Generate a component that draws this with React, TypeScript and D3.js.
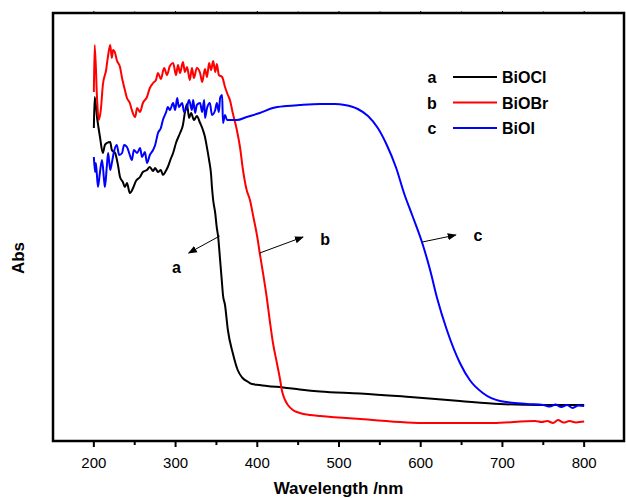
import React from 'react';
import * as d3 from 'd3';

type Pt = [number, number];

// BiOCl (curve a)
const bioclSeries: Pt[] = [
  [200, 1.565], [201, 1.72], [204, 1.615], [207.5, 1.52], [211, 1.44], [213.5, 1.48], [216, 1.49],
  [220, 1.495], [222, 1.455], [226, 1.44], [229.5, 1.38], [232, 1.32], [235.5, 1.295], [238, 1.27],
  [240.5, 1.29], [244, 1.24], [248, 1.265], [251.5, 1.3], [256.5, 1.32], [260, 1.345], [265, 1.355],
  [268.5, 1.37], [272.5, 1.35], [275, 1.365], [278.5, 1.345], [282, 1.355], [284.5, 1.33], [288, 1.35],
  [290.5, 1.37], [294.5, 1.415], [297, 1.44], [300.5, 1.49], [305.5, 1.54], [309, 1.58], [311.5, 1.645],
  [314, 1.685], [316.5, 1.615], [319, 1.64], [322.5, 1.605], [326, 1.625], [330, 1.59], [333.5, 1.555],
  [336, 1.52], [338.5, 1.465], [341, 1.405], [343.5, 1.33], [344.5, 1.27], [346, 1.205], [348.5, 1.14],
  [350.5, 1.065], [352, 1.025], [354.5, 0.905], [357, 0.78], [358, 0.73], [360.5, 0.68], [364, 0.555],
  [370, 0.44], [376, 0.355], [382, 0.315], [389, 0.295], [393.5, 0.285], [403, 0.28], [412, 0.275],
  [431.5, 0.268], [452, 0.258], [477, 0.248], [526, 0.238], [587, 0.22], [648, 0.2], [697, 0.185],
  [746, 0.18], [800, 0.18],
];

// BiOBr (curve b)
const biobrSeries: Pt[] = [
  [200, 1.745], [201, 1.98], [204, 1.705], [206, 1.605], [208.5, 1.655], [211, 1.78], [215, 1.855],
  [217, 1.915], [220, 1.98], [222, 1.915], [223.5, 1.955], [226, 1.94], [228, 1.905], [232, 1.87],
  [234.5, 1.815], [238, 1.755], [240.5, 1.715], [244, 1.69], [246.5, 1.655], [250.5, 1.62], [253, 1.665],
  [256.5, 1.645], [260, 1.69], [265, 1.72], [268.5, 1.765], [272.5, 1.79], [276, 1.805], [278.5, 1.84],
  [282, 1.81], [286, 1.865], [289.5, 1.83], [293, 1.875], [297, 1.89], [300.5, 1.83], [303, 1.88],
  [305.5, 1.84], [309, 1.895], [311.5, 1.845], [314, 1.87], [317.5, 1.805], [320, 1.865], [322.5, 1.815],
  [326, 1.865], [330, 1.84], [332.5, 1.795], [336, 1.86], [338.5, 1.82], [341, 1.89], [343.5, 1.855],
  [346, 1.9], [348.5, 1.845], [350.5, 1.885], [353, 1.83], [357, 1.82], [360.5, 1.77], [364, 1.73],
  [366.5, 1.705], [370, 1.64], [375, 1.555], [379, 1.465], [382.5, 1.355], [387, 1.255], [391, 1.205],
  [395, 1.125], [400, 1.02], [403, 0.94], [407, 0.84], [412, 0.705], [415.5, 0.595], [419, 0.495],
  [424, 0.39], [428, 0.305], [430, 0.255], [434, 0.205], [437.5, 0.18], [443.5, 0.155], [452, 0.14],
  [464.5, 0.13], [477, 0.125], [526, 0.11], [608, 0.09], [688, 0.09], [740, 0.1], [748, 0.095],
  [755, 0.1], [762, 0.09], [768, 0.105], [775, 0.092], [782, 0.1], [790, 0.093], [800, 0.097],
];

// BiOI (curve c)
const bioiSeries: Pt[] = [
  [200, 1.42], [201.5, 1.345], [202.5, 1.39], [205, 1.27], [207.5, 1.345], [210, 1.405], [212.5, 1.305],
  [213.5, 1.27], [216, 1.38], [217.5, 1.44], [220, 1.355], [222, 1.39], [224.5, 1.445], [228, 1.48],
  [231, 1.43], [234.5, 1.44], [237, 1.48], [240.5, 1.47], [244, 1.43], [246.5, 1.405], [249, 1.455],
  [253, 1.44], [256.5, 1.465], [259, 1.42], [262.5, 1.445], [265, 1.39], [268.5, 1.43], [272.5, 1.455],
  [275, 1.48], [278.5, 1.54], [282, 1.565], [284.5, 1.605], [288.5, 1.645], [290.5, 1.67], [293, 1.655],
  [297, 1.69], [299.5, 1.655], [302, 1.715], [304, 1.67], [308, 1.69], [310.5, 1.645], [314, 1.67],
  [316.5, 1.705], [320, 1.655], [321.5, 1.705], [324, 1.64], [326, 1.68], [330, 1.69], [332.5, 1.645],
  [335, 1.705], [336, 1.615], [338.5, 1.665], [342, 1.69], [344.5, 1.63], [348.5, 1.655], [350.5, 1.69],
  [353, 1.645], [354.5, 1.715], [357, 1.73], [358, 1.59], [360.5, 1.63], [363, 1.605], [369, 1.605],
  [375, 1.605], [387, 1.62], [403, 1.64], [419, 1.665], [436, 1.675], [452, 1.68], [477, 1.685],
  [495, 1.685], [507, 1.68], [523, 1.66], [535.5, 1.625], [547.5, 1.565], [558.5, 1.48], [570, 1.365],
  [579.5, 1.24], [589.5, 1.13], [601.5, 0.995], [611.5, 0.855], [620, 0.715], [632, 0.555], [648, 0.39],
  [660, 0.305], [676, 0.24], [697, 0.2], [730, 0.185], [750, 0.18], [758, 0.172], [765, 0.182],
  [772, 0.17], [779, 0.18], [786, 0.165], [793, 0.178], [800, 0.175],
];

const seriesNames = ['BiOCl', 'BiOBr', 'BiOI'];
const seriesKeys = ['a', 'b', 'c'];
const seriesColors = ['#000000', '#ff0000', '#0000ff'];
const seriesData = [bioclSeries, biobrSeries, bioiSeries];

const majorTicks = [200, 300, 400, 500, 600, 700, 800];
const minorTicks = [250, 350, 450, 550, 650, 750];

// annotation arrows: tail on the curve, head pointing at the label
const arrowSpecs = [
  { key: 'a', from: [354, 1.025] as Pt, to: [316, 0.94] as Pt, label: [301, 0.84] as Pt },
  { key: 'b', from: [403, 0.94] as Pt, to: [456, 1.02] as Pt, label: [483, 0.98] as Pt },
  { key: 'c', from: [602, 0.995] as Pt, to: [643, 1.03] as Pt, label: [670, 1.0] as Pt },
];

const W = 626;
const H = 498;
const left = 53;
const right = 624;
const top = 13;
const bottom = 441;

export default function App() {
  const x = d3.scaleLinear().domain([150, 850]).range([left, right + 1]);
  const y = d3.scaleLinear().domain([0, 2.14]).range([bottom, top]);
  const line = d3.line<Pt>().x(d => x(d[0])).y(d => y(d[1])).curve(d3.curveMonotoneX);
  const font = 'Arial, "Liberation Sans", Helvetica, sans-serif';

  return (
    <svg width={W} height={H} style={{ position: 'absolute', left: 0, top: 0, background: '#fff' }}
      fontFamily={font}>
      <defs>
        <marker id="arr" viewBox="0 0 10 10" refX="9" refY="5" markerWidth="9" markerHeight="9"
          orient="auto" markerUnits="userSpaceOnUse">
          <path d="M0,1 L10,5 L0,9 Z" fill="#000" />
        </marker>
      </defs>

      {/* curves */}
      {seriesData.map((s, i) => (
        <path key={seriesNames[i]} d={line(s) ?? ''} fill="none" stroke={seriesColors[i]}
          strokeWidth={2} strokeLinejoin="round" />
      ))}

      {/* frame */}
      <rect x={left} y={top} width={right - left} height={bottom - top} fill="none" stroke="#000" strokeWidth={2.5} />

      {/* x ticks */}
      {majorTicks.map(t => (
        <g key={t}>
          <line x1={x(t)} x2={x(t)} y1={bottom} y2={bottom + 6} stroke="#000" strokeWidth={2} />
          <line x1={x(t)} x2={x(t)} y1={top} y2={top - 2} stroke="#000" strokeWidth={1} />
          <text x={x(t)} y={bottom + 27} fontSize={15} textAnchor="middle">{t}</text>
        </g>
      ))}
      {minorTicks.map(t => (
        <g key={t}>
          <line x1={x(t)} x2={x(t)} y1={bottom} y2={bottom + 4} stroke="#000" strokeWidth={2} />
          <line x1={x(t)} x2={x(t)} y1={top} y2={top - 1.5} stroke="#000" strokeWidth={1} />
        </g>
      ))}

      <text x={(left + right) / 2} y={494} fontSize={17} fontWeight="bold" textAnchor="middle">Wavelength /nm</text>
      <text transform={`translate(24,${(top + bottom) / 2 + 31}) rotate(-90)`} fontSize={17} fontWeight="bold"
        textAnchor="middle">Abs</text>

      {/* legend */}
      {seriesNames.map((n, i) => {
        const ly = 77 + i * 25.5;
        return (
          <g key={n}>
            <text x={432} y={ly + 6} fontSize={16} fontWeight="bold" textAnchor="middle">{seriesKeys[i]}</text>
            <line x1={453} x2={497} y1={ly} y2={ly} stroke={seriesColors[i]} strokeWidth={2} />
            <text x={502} y={ly + 6} fontSize={16} fontWeight="bold">{n}</text>
          </g>
        );
      })}

      {/* annotations */}
      {arrowSpecs.map(a => (
        <g key={a.key}>
          <line x1={x(a.from[0])} y1={y(a.from[1])} x2={x(a.to[0])} y2={y(a.to[1])} stroke="#000"
            strokeWidth={1} markerEnd="url(#arr)" />
          <text x={x(a.label[0])} y={y(a.label[1])} fontSize={16} fontWeight="bold" textAnchor="middle">{a.key}</text>
        </g>
      ))}
    </svg>
  );
}
